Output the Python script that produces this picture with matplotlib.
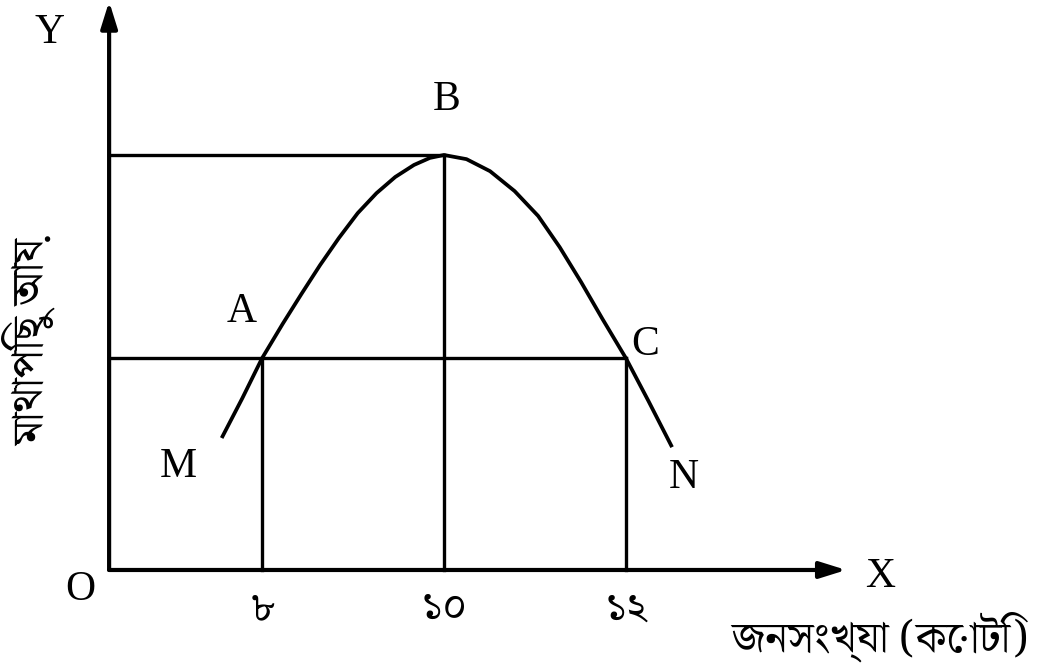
import matplotlib
matplotlib.use('Agg')
import matplotlib.pyplot as plt
from matplotlib import font_manager

# population (crore) and per-capita income (arbitrary units)
pop_ticks = [8, 10, 12]
tick_labels = ['৮', '১০', '১২']
income_max = 100      # level of B
income_equal = 51     # level of A and C

curve_pop = [7.557, 7.784, 8.0, 8.227, 8.433, 8.639, 8.845, 9.052, 9.258, 9.464, 9.670, 9.845, 10.0,
             10.247, 10.506, 10.776, 11.035, 11.271, 11.506, 11.741, 12.0, 12.247, 12.506]
curve_income = [31.8, 41.4, 51.0, 59.3, 66.5, 73.5, 80.0, 86.0, 90.8, 94.7, 97.6, 99.3, 100.0,
                99.0, 96.1, 91.3, 85.3, 77.8, 69.4, 60.5, 51.0, 40.7, 29.6]

x_label = 'জনসংখ্যা (কোটি)'
y_label = 'মাথাপিছু আয়'

# шрифт с бенгальскими глифами — берём первый из найденных
available = {f.name for f in font_manager.fontManager.ttflist}
bn_font = [n for n in ['Noto Serif Bengali', 'Tiro Bangla', 'FreeSerif', 'Noto Sans Bengali',
                       'Hind Siliguri'] if n in available][:1] + ['DejaVu Sans']
serif = 'Liberation Serif'

fig = plt.figure(figsize=(10.56, 6.70), dpi=100)
ax = fig.add_axes([0, 0, 1, 1])
ax.set_xlim(5.121, 16.725)
ax.set_ylim(-24.1, 137.35)
ax.axis('off')

x0 = 6.32  # y axis position

# axes with arrows
arrow = dict(arrowstyle='-|>,head_length=1.6,head_width=0.5', lw=3.0, color='black', shrinkA=0, shrinkB=0)
ax.annotate('', xy=(14.42, 0), xytext=(x0, 0), arrowprops=arrow)
ax.annotate('', xy=(x0, 137.0), xytext=(x0, 0), arrowprops=arrow)

# guide lines
ax.plot([x0, pop_ticks[1]], [income_max, income_max], color='black', lw=2.4)
ax.plot([x0, pop_ticks[2]], [income_equal, income_equal], color='black', lw=2.4)
ax.plot([pop_ticks[0], pop_ticks[0]], [0, income_equal], color='black', lw=2.4)
ax.plot([pop_ticks[1], pop_ticks[1]], [0, income_max], color='black', lw=2.4)
ax.plot([pop_ticks[2], pop_ticks[2]], [0, income_equal], color='black', lw=2.4)

# the income curve M-A-B-C-N
ax.plot(curve_pop, curve_income, color='black', lw=2.7, solid_capstyle='butt', solid_joinstyle='round')

# letters
fs = 30
ax.text(5.67, 129.4, 'Y', fontsize=fs, family=serif, ha='center', va='center')
ax.text(6.0, -4.8, 'O', fontsize=fs, family=serif, ha='center', va='center')
ax.text(14.79, -1.7, 'X', fontsize=fs, family=serif, ha='center', va='center')
ax.text(7.78, 62.2, 'A', fontsize=fs, family=serif, ha='center', va='center')
ax.text(10.03, 113.3, 'B', fontsize=fs, family=serif, ha='center', va='center')
ax.text(12.21, 54.2, 'C', fontsize=fs, family=serif, ha='center', va='center')
ax.text(7.08, 24.8, 'M', fontsize=fs, family=serif, ha='center', va='center')
ax.text(12.63, 22.2, 'N', fontsize=fs, family=serif, ha='center', va='center')

# tick labels in Bengali digits
for p, lab in zip(pop_ticks, tick_labels):
    ax.text(p, -9.5, lab, fontsize=30, family=bn_font, ha='center', va='center')

ax.text(14.79, -16.1, x_label, fontsize=31, family=bn_font, ha='center', va='center')
ax.text(5.45, 54.7, y_label, fontsize=32, family=bn_font, ha='center', va='center', rotation=90)

fig.savefig('out.png', dpi=100)
